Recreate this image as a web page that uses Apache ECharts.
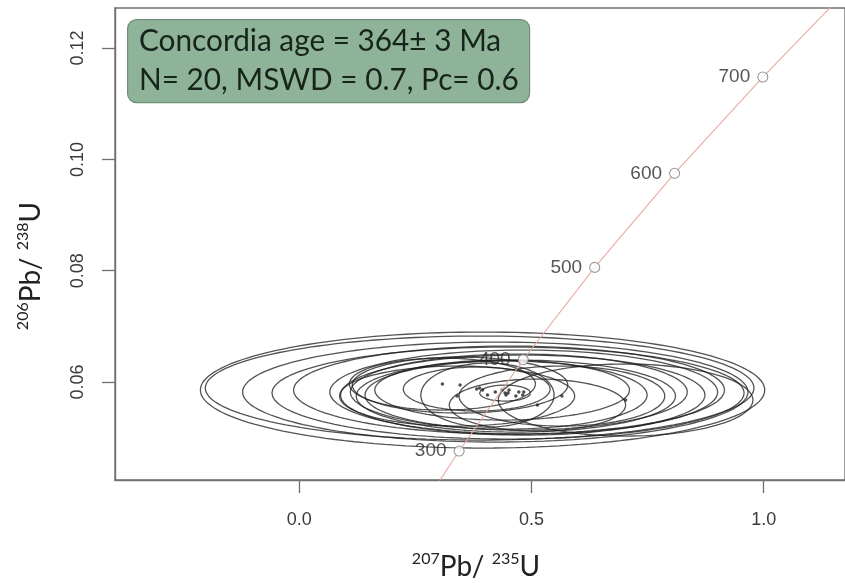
<!DOCTYPE html>
<html><head><meta charset="utf-8">
<script src="https://cdn.jsdelivr.net/npm/echarts@6/dist/echarts.min.js"></script>
<style>html,body{margin:0;padding:0;background:#fff;} #c{width:845px;height:583px;}</style>
</head><body><div id="c"></div>
<script>
// ---- data ----
const xTicks = [0, 0.5, 1.0];
const yTicks = [0.06, 0.08, 0.10, 0.12];
const concordiaAges = [300, 400, 500, 600, 700];
const concordiaX = [0.344, 0.482, 0.636, 0.808, 0.998];
const concordiaY = [0.0476, 0.0640, 0.0806, 0.0975, 0.1148];
const curveX = [0.242, 0.344, 0.482, 0.636, 0.808, 0.998, 1.199];
const curveY = [0.0347, 0.0476, 0.0640, 0.0806, 0.0975, 0.1148, 0.1321];
// ellipse centres and semi-axes (207Pb/235U, 206Pb/238U)
const ellCX = [0.3945,0.3882,0.4219,0.4494,0.4515,0.4831,0.4810,0.4726,0.4662,0.4451,0.4367,0.3080,0.3460,0.3819,0.3397,0.4430,0.4051,0.5127,0.5654,0.7025];
const ellCY = [0.05856,0.05892,0.05820,0.05802,0.05856,0.05820,0.05766,0.05820,0.05748,0.05766,0.05856,0.05964,0.05946,0.05874,0.05748,0.05802,0.05766,0.05587,0.05748,0.05677];
const ellA  = [0.6076,0.5907,0.5443,0.5084,0.4641,0.4177,0.3924,0.3629,0.3439,0.3038,0.2743,0.2004,0.2321,0.1582,0.2532,0.0549,0.1435,0.1899,0.2215,0.2743];
const ellB  = [0.01042,0.00934,0.00898,0.00826,0.00790,0.00755,0.00719,0.00683,0.00647,0.00611,0.00539,0.00467,0.00503,0.00395,0.00539,0.00144,0.00575,0.00467,0.00539,0.00647];
const boxLine1 = 'Concordia age = 364\u00b1 3 Ma';
const boxLine2 = 'N= 20, MSWD = 0.7, Pc= 0.6';

const chart = echarts.init(document.getElementById('c'), null, {renderer:'canvas'});
const series = [];
for (let i = 0; i < ellCX.length; i++) {
  const pts = [];
  const n = 160;
  for (let k = 0; k <= n; k++) {
    const t = 2 * Math.PI * k / n;
    pts.push([ellCX[i] + ellA[i] * Math.cos(t), ellCY[i] + ellB[i] * Math.sin(t)]);
  }
  series.push({type:'line', data: pts, showSymbol:false, silent:true, z:2,
    lineStyle:{color:'rgba(25,25,25,0.75)', width:1.3}});
}
series.push({type:'scatter', data: ellCX.map((x,i)=>[x, ellCY[i]]), symbolSize:3.5, silent:true, z:3,
  itemStyle:{color:'#222'}});
series.push({type:'line', data: curveX.map((x,i)=>[x, curveY[i]]), showSymbol:false, silent:true, z:4,
  lineStyle:{color:'#e8aaa2', width:1.1}});
series.push({type:'scatter', data: concordiaX.map((x,i)=>({value:[x, concordiaY[i]], name:String(concordiaAges[i])})),
  symbol:'circle', symbolSize:10, silent:true, z:5,
  itemStyle:{color:'#fff', borderColor:'#808080', borderWidth:1.1},
  label:{show:true, position:'left', distance:7, formatter:p=>p.name, fontFamily:'Liberation Sans', fontSize:19, color:'#2a2a2a'}});

const axisCol = '#707070';
chart.setOption({
  animation:false,
  backgroundColor:'#fff',
  grid:{left:115, top:8, width:745, height:472, show:true, borderColor:axisCol, borderWidth:1.4, containLabel:false},
  xAxis:{type:'value', min:-0.397, max:1.175, splitLine:{show:false},
    axisLine:{show:true, onZero:false, lineStyle:{color:axisCol, width:1.4}},
    axisTick:{show:true, customValues:xTicks, length:13, lineStyle:{color:axisCol, width:1.3}},
    axisLabel:{customValues:xTicks, formatter:v=>v.toFixed(1), margin:31, fontFamily:'Liberation Sans', fontSize:18, color:'#3a3a3a'}},
  yAxis:{type:'value', min:0.0424, max:0.1272, splitLine:{show:false},
    axisLine:{show:true, onZero:false, lineStyle:{color:axisCol, width:1.4}},
    axisTick:{show:true, customValues:yTicks, length:13, lineStyle:{color:axisCol, width:1.3}},
    axisLabel:{customValues:yTicks, rotate:90, formatter:v=>v.toFixed(2), margin:28, fontFamily:'Liberation Sans', fontSize:18, color:'#3a3a3a'}},
  series: series,
  graphic:[
    {type:'rect', left:127, top:19, z:10, shape:{width:402, height:83, r:9},
      style:{fill:'#8fb398', stroke:'#6f9077', lineWidth:1.2}},
    {type:'text', x:139, y:41, z:11, scaleX:0.96, style:{text:boxLine1, font:'31px Lato', fill:'#17241b', verticalAlign:'middle', textAlign:'left'}},
    {type:'text', x:139, y:80, z:11, scaleX:0.96, style:{text:boxLine2, font:'31px Lato', fill:'#17241b', verticalAlign:'middle', textAlign:'left'}},
    {type:'text', x:476, y:566, z:11, style:{text:'{s|207}{m|Pb/ }{s|235}{m|U}', textAlign:'center', verticalAlign:'middle',
      rich:{m:{font:'28px Lato', fill:'#222', verticalAlign:'bottom', lineHeight:30}, s:{font:'16px Lato', fill:'#222', verticalAlign:'top', lineHeight:30}}}},
    {type:'text', x:30, y:266, rotation:Math.PI/2, z:11, style:{text:'{s|206}{m|Pb/ }{s|238}{m|U}', textAlign:'center', verticalAlign:'middle',
      rich:{m:{font:'28px Lato', fill:'#222', verticalAlign:'bottom', lineHeight:30}, s:{font:'16px Lato', fill:'#222', verticalAlign:'top', lineHeight:30}}}}
  ]
});
</script></body></html>
